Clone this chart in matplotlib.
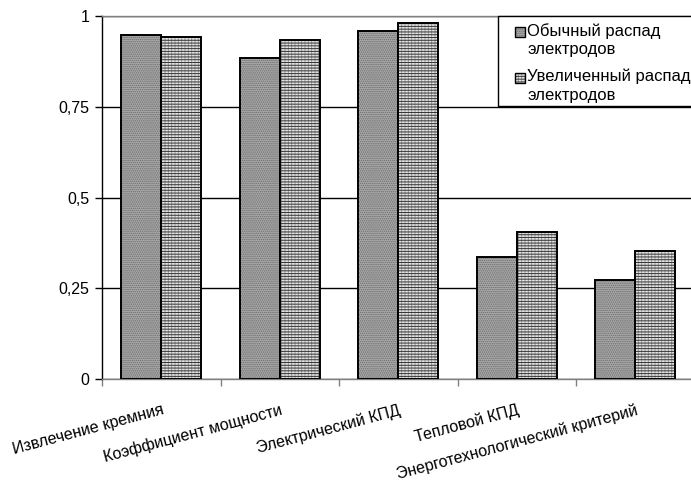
import numpy as np
import matplotlib
matplotlib.use("Agg")
import matplotlib.pyplot as plt
from matplotlib.patches import Rectangle

plt.rcParams["font.family"] = ["Liberation Sans", "DejaVu Sans"]
plt.rcParams["hatch.linewidth"] = 0.7

categories = [
    "Извлечение кремния",
    "Коэффициент мощности",
    "Электрический КПД",
    "Тепловой КПД",
    "Энерготехнологический критерий",
]
series_names = ["Обычный распад\nэлектродов", "Увеличенный распад\nэлектродов"]
normal = [0.948, 0.883, 0.959, 0.337, 0.273]
increased = [0.941, 0.935, 0.981, 0.404, 0.353]
y_ticks = [0, 0.25, 0.5, 0.75, 1]
y_labels = ["0", "0,25", "0,5", "0,75", "1"]

W, H = 691, 484
fs = 11.5

fig = plt.figure(figsize=(W / 100, H / 100), dpi=100)
ax = fig.add_axes([102 / W, 1 - 379 / H, 592.5 / W, 363 / H])


def fx(px):
    return px / W


def fy(py):
    return 1 - py / H


# стили двух рядов
style1 = dict(facecolor="#a9a9a9", hatch="........")
style2 = dict(facecolor="#e4e4e4", hatch="|||||")
hatch1 = (0.42, 0.42, 0.42, 1)
hatch2v = (0.6, 0.6, 0.6, 1)
hatch2h = (0.2, 0.2, 0.2, 1)

x = np.arange(len(categories))
w = 0.338

b1 = ax.bar(x - w / 2, normal, w, edgecolor="black", linewidth=1.4,
            zorder=3, **style1)
for p in b1:
    p._hatch_color = hatch1
b2 = ax.bar(x + w / 2, increased, w, edgecolor="none", zorder=3, **style2)
for p in b2:
    p._hatch_color = hatch2v
b2h = ax.bar(x + w / 2, increased, w, facecolor="none", edgecolor="black",
             linewidth=1.4, hatch="------", zorder=4)
for p in b2h:
    p._hatch_color = hatch2h

ax.set_xlim(-0.5, len(categories) - 0.5)
ax.set_ylim(0, 1)

ax.set_yticks(y_ticks)
ax.set_yticklabels(y_labels, fontsize=fs)
ax.yaxis.grid(True, color="black", linewidth=1)
ax.set_axisbelow(True)

ax.set_xticks(np.arange(len(categories) + 1) - 0.5)
ax.set_xticklabels([])
ax.set_xticks(x, minor=True)
ax.set_xticklabels(categories, minor=True, rotation=15, ha="right", va="top",
                   rotation_mode="anchor", fontsize=fs)
ax.tick_params(axis="x", which="minor", length=0, pad=17)
ax.tick_params(axis="x", which="major", length=5, color="#808080", width=1)
ax.tick_params(axis="y", length=5, color="black", width=1, pad=4)

ax.spines["left"].set_color("black")
for s in ["top", "right", "bottom"]:
    ax.spines[s].set_color("#808080")
for s in ax.spines.values():
    s.set_linewidth(1)

# легенда вручную: рамка, маркеры и подписи
fig.add_artist(Rectangle((fx(498), fy(106)), fx(720) - fx(498), fy(16) - fy(106),
                         transform=fig.transFigure, facecolor="white",
                         edgecolor="black", linewidth=1, zorder=10))
marker_tops = [27, 73]
for i, (name, top) in enumerate(zip(series_names, marker_tops)):
    if i == 0:
        m = Rectangle((fx(515), fy(top + 10)), fx(10), 10 / H,
                      transform=fig.transFigure, edgecolor="black",
                      linewidth=1, zorder=11, **style1)
        m._hatch_color = hatch1
        fig.add_artist(m)
    else:
        m = Rectangle((fx(515), fy(top + 10)), fx(10), 10 / H,
                      transform=fig.transFigure, edgecolor="none",
                      zorder=11, **style2)
        m._hatch_color = hatch2v
        fig.add_artist(m)
        m2 = Rectangle((fx(515), fy(top + 10)), fx(10), 10 / H,
                       transform=fig.transFigure, facecolor="none",
                       edgecolor="black", linewidth=1, hatch="------", zorder=12)
        m2._hatch_color = hatch2h
        fig.add_artist(m2)
    fig.text(fx(527), fy(top - 4), name, fontsize=12, va="top", ha="left",
             linespacing=1.3, zorder=13)

fig.savefig("out.png", dpi=100)
